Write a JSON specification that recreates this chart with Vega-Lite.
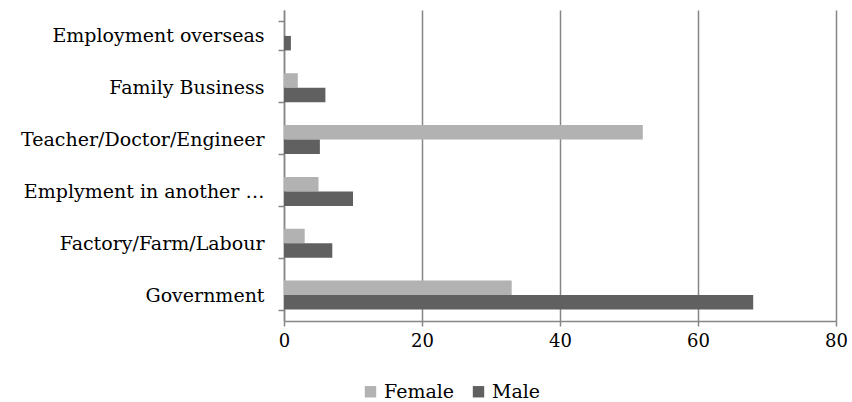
{
  "$schema": "https://vega.github.io/schema/vega-lite/v6.json",
  "autosize": "none",
  "width": 552,
  "height": 311,
  "padding": {"left": 284, "top": 10, "right": 16, "bottom": 81},
  "background": "white",
  "data": {
    "values": [
      {"category": "Employment overseas", "gender": "Female", "value": 0},
      {"category": "Employment overseas", "gender": "Male", "value": 1},
      {"category": "Family Business", "gender": "Female", "value": 2},
      {"category": "Family Business", "gender": "Male", "value": 6},
      {"category": "Teacher/Doctor/Engineer", "gender": "Female", "value": 52},
      {"category": "Teacher/Doctor/Engineer", "gender": "Male", "value": 5.2},
      {"category": "Emplyment in another …", "gender": "Female", "value": 5},
      {"category": "Emplyment in another …", "gender": "Male", "value": 10},
      {"category": "Factory/Farm/Labour", "gender": "Female", "value": 3},
      {"category": "Factory/Farm/Labour", "gender": "Male", "value": 7},
      {"category": "Government", "gender": "Female", "value": 33},
      {"category": "Government", "gender": "Male", "value": 68}
    ]
  },
  "config": {
    "view": {"stroke": null},
    "font": "DejaVu Serif"
  },
  "mark": {"type": "bar"},
  "encoding": {
    "y": {
      "field": "category",
      "type": "nominal",
      "sort": null,
      "scale": {"paddingInner": 0.44, "paddingOuter": 0.22},
      "axis": {
        "title": null,
        "tickBand": "extent",
        "domainColor": "#868686",
        "domainWidth": 1.5,
        "tickColor": "#868686",
        "tickWidth": 1.5,
        "tickSize": 6,
        "labelFont": "DejaVu Serif",
        "labelFontSize": 19,
        "labelColor": "#000000",
        "labelPadding": 14,
        "labelLimit": 300
      }
    },
    "yOffset": {"field": "gender", "type": "nominal", "sort": ["Female", "Male"]},
    "x": {
      "field": "value",
      "type": "quantitative",
      "scale": {"domain": [0, 80]},
      "axis": {
        "title": null,
        "values": [0, 20, 40, 60, 80],
        "grid": true,
        "gridColor": "#868686",
        "gridWidth": 1.5,
        "domainColor": "#868686",
        "domainWidth": 1.5,
        "tickColor": "#868686",
        "tickWidth": 1.5,
        "tickSize": 5,
        "labelFlush": false,
        "labelFont": "DejaVu Serif",
        "labelFontSize": 18,
        "labelColor": "#000000",
        "labelPadding": 6
      }
    },
    "color": {
      "field": "gender",
      "type": "nominal",
      "scale": {"domain": ["Female", "Male"], "range": ["#b2b2b2", "#606060"]},
      "legend": {
        "title": null,
        "orient": "none",
        "direction": "horizontal",
        "legendX": 77,
        "legendY": 372,
        "symbolType": "square",
        "symbolSize": 130,
        "symbolStrokeWidth": 0,
        "labelFont": "DejaVu Serif",
        "labelFontSize": 19,
        "labelColor": "#000000",
        "labelOffset": 4,
        "columnPadding": 14
      }
    }
  }
}
